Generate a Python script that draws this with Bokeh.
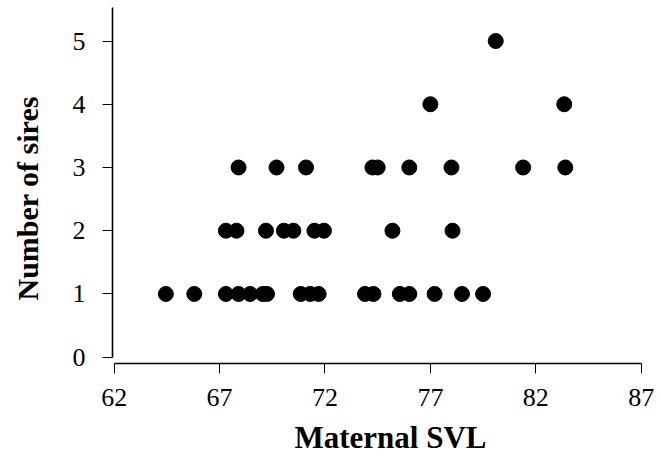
from bokeh.plotting import figure
from bokeh.models import Range1d, FixedTicker, Title, LinearAxis
from bokeh.embed import file_html
from bokeh.resources import INLINE

# Maternal snout-vent length (x) and number of sires (y)
svl_one = [64.45, 65.8, 67.3, 67.9, 68.45, 69.05, 69.25, 70.85, 71.3, 71.7,
           73.9, 74.3, 75.55, 76.0, 77.2, 78.5, 79.5]
svl_two = [67.3, 67.8, 69.2, 70.05, 70.5, 71.5, 71.95, 75.2, 78.05]
svl_three = [67.9, 69.7, 71.1, 74.25, 74.5, 76.0, 78.0, 81.4, 83.4]
svl_four = [77.0, 83.35]
svl_five = [80.1]

x_ticks = [62, 67, 72, 77, 82, 87]
y_ticks = [0, 1, 2, 3, 4, 5]
x_title = "Maternal SVL"
y_title = "Number of sires"

svl = svl_one + svl_two + svl_three + svl_four + svl_five
sires = ([1] * len(svl_one) + [2] * len(svl_two) + [3] * len(svl_three)
         + [4] * len(svl_four) + [5] * len(svl_five))

FONT = "Liberation Serif"

p = figure(width=660, height=463, output_backend="svg", toolbar_location=None,
           x_range=Range1d(61.92, 87.3), y_range=Range1d(-0.1, 5.53),
           min_border_left=112, min_border_right=13, min_border_top=7,
           min_border_bottom=100)
p.outline_line_color = None
p.xgrid.visible = False
p.ygrid.visible = False
p.background_fill_color = "white"
p.border_fill_color = "white"

p.scatter(svl, sires, size=15, color="black", line_color="black")

for ax in (p.xaxis[0], p.yaxis[0]):
    ax.axis_line_color = "black"
    ax.axis_line_width = 1.6
    ax.major_tick_line_color = "black"
    ax.major_tick_line_width = 1
    ax.major_tick_out = 10
    ax.major_tick_in = 0
    ax.minor_tick_line_color = None
    ax.major_label_text_font = FONT
    ax.major_label_text_font_size = "26px"
    ax.major_label_text_color = "black"

p.xaxis[0].ticker = FixedTicker(ticks=x_ticks)
p.yaxis[0].ticker = FixedTicker(ticks=y_ticks)
p.xaxis[0].bounds = (62, 87)
p.yaxis[0].bounds = (0, 5.53)
p.xaxis[0].major_label_standoff = 15
p.yaxis[0].major_label_standoff = 17

# blank spacer axis (one white tick, empty label) pushing the y title outward
spacer = LinearAxis(ticker=FixedTicker(ticks=[0]), axis_line_color=None,
                    major_tick_line_color="white", minor_tick_line_color=None,
                    major_tick_out=16, major_tick_in=0, major_label_standoff=0,
                    major_label_overrides={0: ""})
p.add_layout(spacer, "left")

# axis titles as side titles, offset along the axis in pixels
p.add_layout(Title(text=x_title, align="left", offset=182, standoff=18,
                   text_font=FONT, text_font_style="bold",
                   text_font_size="31px", text_color="black"), "below")
p.add_layout(Title(text=y_title, align="left", offset=63, standoff=16,
                   vertical_align="top",
                   text_font=FONT, text_font_style="bold",
                   text_font_size="30px", text_color="black"), "left")

open("out.html", "w").write(file_html(p, INLINE))
